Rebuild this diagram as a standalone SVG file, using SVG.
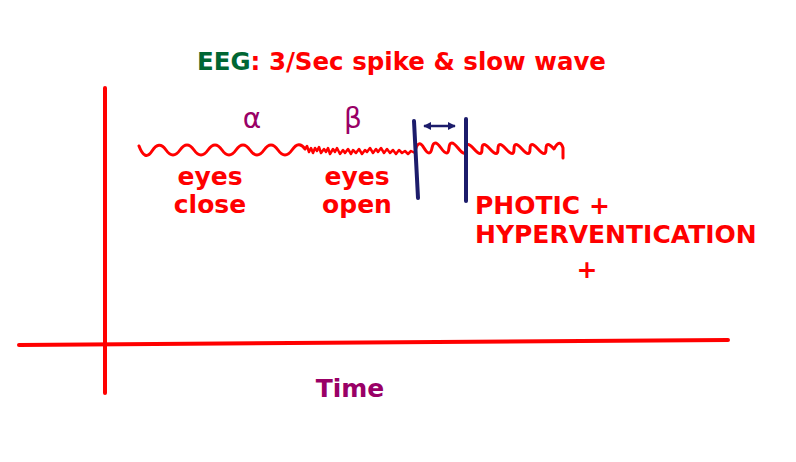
<svg xmlns="http://www.w3.org/2000/svg" width="796" height="462" viewBox="0 0 796 462">
<style>
.t{font-family:"DejaVu Sans","Verdana",sans-serif;font-weight:bold;font-size:25px;fill:#ff0000}
.ax{stroke:#ff0000;stroke-width:4;stroke-linecap:round;fill:none}
.wave{stroke:#ff0000;stroke-width:3;fill:none;stroke-linecap:round;stroke-linejoin:round}
.bar{stroke:#1c1c6b;stroke-width:4;stroke-linecap:round;fill:none}
.sym{font-family:"DejaVu Sans",sans-serif;font-size:28px;fill:#990066}
</style>
<defs>
<marker id="ah" viewBox="0 0 10 10" refX="9" refY="5" markerWidth="3.2" markerHeight="3.2" orient="auto-start-reverse">
<path d="M0,0 L10,5 L0,10 z" fill="#1c1c6b"/>
</marker>
</defs>
<rect width="796" height="462" fill="#ffffff"/>
<g id="title">
<text x="197" y="70" class="t" textLength="409" lengthAdjust="spacingAndGlyphs"><tspan fill="#006633">EEG</tspan>: 3/Sec spike &amp; slow wave</text>
</g>
<g id="axes">
<line x1="19" y1="345" x2="728" y2="340" class="ax"/>
<line x1="105" y1="88" x2="105" y2="393" class="ax"/>
</g>
<g id="waveform">
<path class="wave" d="M139,146 Q145,162 152,151 T166,150 T180,150 T194,150 T208,150 T222,150 T236,150 T250,150 T264,150 T278,150 T292,150 T305,149"/>
<polyline class="wave" style="stroke-width:2.5" points="305,149 307,146 309,152 311,148 313,153 315,148 317,151 319,147 321,153 324,149 326,152 328,148 330,154 333,149 335,152 337,148 340,154 343,150 345,153 348,149 351,154 353,150 356,153 359,149 362,154 365,150 367,152 370,148 373,153 376,149 378,152 381,148 384,153 387,149 390,153 393,150 396,154 399,150 402,153 405,151 408,154 411,151 415,153"/>
<path class="wave" d="M415,152 Q418,138 424,148 T432,148 T441,148 T449,148 T458,148 T466,149 T474,149 T482,149 T490,149 T498,149 T506,149 T514,149 T522,149 T530,149 T538,149 T546,149 T554,149 Q560,138 563,148 L563,158"/>
</g>
<g id="markers">
<line x1="414" y1="121" x2="418" y2="198" class="bar"/>
<line x1="466" y1="119" x2="466" y2="201" class="bar"/>
<line x1="424" y1="126" x2="455" y2="126" stroke="#1c1c6b" stroke-width="2.5" marker-start="url(#ah)" marker-end="url(#ah)"/>
</g>
<g id="alpha"><text x="252" y="128" class="sym" text-anchor="middle">α</text></g>
<g id="beta"><text x="353" y="128" class="sym" text-anchor="middle">β</text></g>
<g id="eyes-close">
<text x="210" y="185" class="t" text-anchor="middle">eyes</text>
<text x="210" y="213" class="t" text-anchor="middle">close</text>
</g>
<g id="eyes-open">
<text x="357" y="185" class="t" text-anchor="middle">eyes</text>
<text x="357" y="213" class="t" text-anchor="middle">open</text>
</g>
<g id="photic">
<text x="475" y="214" class="t">PHOTIC +</text>
<text x="475" y="243" class="t">HYPERVENTICATION</text>
<text x="587" y="278" class="t" text-anchor="middle">+</text>
</g>
<g id="time">
<text x="350" y="397" class="t" text-anchor="middle" style="fill:#990066">Time</text>
</g>
</svg>
